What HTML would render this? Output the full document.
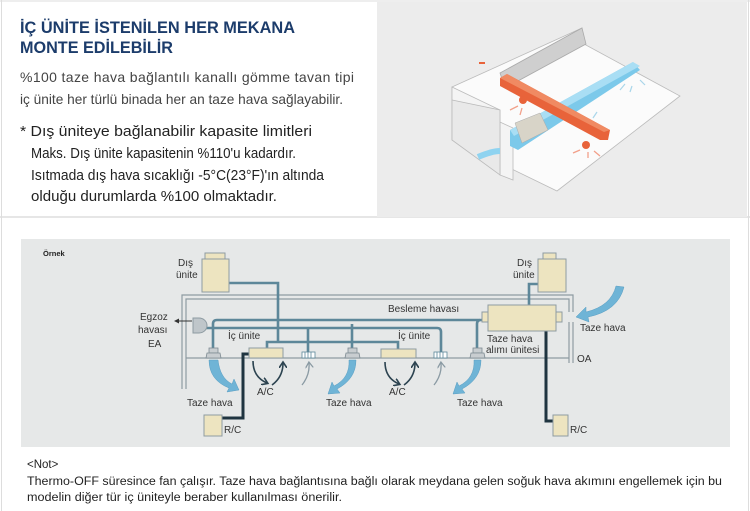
<!DOCTYPE html>
<html><head><meta charset="utf-8"><style>
html,body{margin:0;padding:0;background:#fff;}
svg{display:block;}
text{font-family:"Liberation Sans",sans-serif;}
</style></head><body>
<svg width="750" height="511" viewBox="0 0 750 511" xmlns="http://www.w3.org/2000/svg">
<defs>
<marker id="ad" markerWidth="8" markerHeight="8" refX="5" refY="4" orient="auto" markerUnits="userSpaceOnUse"><path d="M0,0 L6,4 L0,8" fill="none" stroke="#2c4350" stroke-width="1.6"/></marker>
<marker id="ag" markerWidth="8" markerHeight="8" refX="5" refY="4" orient="auto" markerUnits="userSpaceOnUse"><path d="M0,0 L6,4 L0,8" fill="none" stroke="#8a9aa3" stroke-width="1.3"/></marker>
</defs>
<rect x="0" y="0" width="750" height="511" fill="#fff"/>
<line x1="1.5" y1="0" x2="1.5" y2="511" stroke="#ddd" stroke-width="1"/>
<line x1="748.5" y1="0" x2="748.5" y2="511" stroke="#ddd" stroke-width="1"/>
<line x1="0" y1="1" x2="750" y2="1" stroke="#ddd"/>
<line x1="0" y1="217" x2="750" y2="217" stroke="#ddd" stroke-width="1.5"/>

<text x="20" y="33" font-size="17" font-weight="bold" fill="#1c3c6b" textLength="275" lengthAdjust="spacingAndGlyphs">İÇ ÜNİTE İSTENİLEN HER MEKANA</text>
<text x="20" y="53" font-size="17" font-weight="bold" fill="#1c3c6b" textLength="153" lengthAdjust="spacingAndGlyphs">MONTE EDİLEBİLİR</text>
<text x="20" y="82" font-size="14" fill="#444" textLength="334" lengthAdjust="spacing">%100 taze hava bağlantılı kanallı gömme tavan tipi</text>
<text x="20" y="104" font-size="14" fill="#444" textLength="323" lengthAdjust="spacingAndGlyphs">iç ünite her türlü binada her an taze hava sağlayabilir.</text>
<text x="20" y="136" font-size="14.5" fill="#222" textLength="292" lengthAdjust="spacingAndGlyphs">* Dış üniteye bağlanabilir kapasite limitleri</text>
<text x="31" y="158" font-size="14.5" fill="#222" textLength="265" lengthAdjust="spacingAndGlyphs">Maks. Dış ünite kapasitenin %110'u kadardır.</text>
<text x="31" y="180" font-size="14.5" fill="#222" textLength="293" lengthAdjust="spacingAndGlyphs">Isıtmada dış hava sıcaklığı -5°C(23°F)'ın altında</text>
<text x="31" y="201" font-size="14.5" fill="#222" textLength="246" lengthAdjust="spacingAndGlyphs">olduğu durumlarda %100 olmaktadır.</text>

<rect x="377" y="2" width="370" height="215" fill="#ececec"/>
<polygon points="452,87 582,28 584,44 680,96 557,191 452,140" fill="#fbfbfb" stroke="#bbb" stroke-width="0.8"/>
<polygon points="452,87 500,110 500,175 513,180 513,128 452,100" fill="#f4f4f4" stroke="#bbb" stroke-width="0.8"/>
<polygon points="452,100 452,140 500,175 500,110" fill="#e9e9e9" stroke="#bbb" stroke-width="0.8"/>
<polygon points="500,73 582,28 586,44 505,88" fill="#cfcfcf" stroke="#aaa" stroke-width="0.8"/>
<polygon points="510,130 633,62 640,70 518,150 510,146" fill="#7cc9ea"/>
<polygon points="510,130 633,62 640,66 514,136" fill="#a9def4"/>
<polygon points="515,123 540,113 548,130 522,143" fill="#d8d4c8" stroke="#aaa" stroke-width="0.5"/>
<polygon points="500,78 507,74 610,130 608,140 600,140 500,86" fill="#e8633a"/>
<polygon points="500,78 507,74 610,130 604,132" fill="#f08a62"/>
<circle cx="523" cy="100" r="4" fill="#e8633a"/><circle cx="586" cy="145" r="4" fill="#e8633a"/>
<path d="M478,157 q14,-6 22,-6" stroke="#8fd3f0" stroke-width="6" fill="none"/>
<path d="M485,63 l-6,0" stroke="#e8633a" stroke-width="2"/>
<g stroke="#f2a08a" stroke-width="1.3"><line x1="573" y1="153" x2="580" y2="150"/><line x1="588" y1="158" x2="588" y2="152"/><line x1="600" y1="156" x2="594" y2="151"/><line x1="510" y1="110" x2="518" y2="106"/><line x1="520" y1="115" x2="522" y2="108"/></g>
<g stroke="#a9d6ea" stroke-width="1.2"><line x1="620" y1="90" x2="625" y2="84"/><line x1="630" y1="92" x2="632" y2="86"/><line x1="645" y1="85" x2="640" y2="80"/><line x1="593" y1="118" x2="597" y2="112"/></g>

<rect x="21" y="239" width="709" height="208" fill="#e6e8e8"/>
<text x="43" y="256" font-size="7.5" font-weight="bold" fill="#222">Örnek</text>

<g stroke="#8e9ba2" stroke-width="1.2" fill="none">
<polyline points="182,389 182,295 573,295 573,312"/>
<polyline points="186,389 186,299 569,299 569,312"/>
<line x1="569" y1="322" x2="569" y2="363"/>
<line x1="573" y1="322" x2="573" y2="363"/>
<line x1="186" y1="358" x2="569" y2="358"/>
</g>

<g stroke="#5d8799" stroke-width="2.6" fill="none">
<path d="M213,349 V324 q0,-4 4,-4 H480"/>
<path d="M352,349 V324"/>
<path d="M477,349 V324 q0,-4 4,-4 H482"/>
<path d="M205,328 H437 q4,0 4,4 V352"/>
<path d="M308,328 V352"/>
<path d="M229,283 H278 V342"/>
<path d="M267,348 V342 H398 V349"/>
<path d="M538,284 H529 V305"/>
</g>
<g stroke="#1f3440" stroke-width="3" fill="none">
<polyline points="222,418 243,418 243,354 249,354"/>
<polyline points="546,331 546,421 553,421"/>
</g>

<g fill="#ede4c0" stroke="#8e9ba2" stroke-width="1">
<rect x="205" y="253" width="20" height="7"/>
<rect x="202" y="259" width="27" height="33"/>
<rect x="543" y="253" width="13" height="6"/>
<rect x="538" y="259" width="28" height="33"/>
<rect x="249" y="348" width="34" height="10"/>
<rect x="381" y="349" width="35" height="9"/>
<rect x="488" y="305" width="68" height="26"/>
<rect x="482" y="312" width="6" height="10"/>
<rect x="556" y="312" width="6" height="10"/>
<rect x="204" y="415" width="18" height="21"/>
<rect x="553" y="415" width="15" height="21"/>
</g>
<path d="M193,318 h6 a8,7.5 0 0 1 0,15 h-6 z" fill="#bfc6ca" stroke="#8e9ba2"/>
<line x1="192" y1="321" x2="178" y2="321" stroke="#333" stroke-width="1"/>
<path d="M174,321 l5,-2.5 v5 z" fill="#333"/>
<g fill="#c8cdd0" stroke="#7e8b92" stroke-width="0.8">
<rect x="209" y="348" width="9" height="5"/><path d="M207,353 h13 l1,5 h-15 z"/>
<rect x="348" y="348" width="9" height="5"/><path d="M346,353 h13 l1,5 h-15 z"/>
<rect x="473" y="348" width="9" height="5"/><path d="M471,353 h13 l1,5 h-15 z"/>
</g>
<g fill="#fff" stroke="#5d8799" stroke-width="0.8">
<rect x="302" y="352" width="13" height="6"/><rect x="434" y="352" width="13" height="6"/>
<path d="M305,352v6M308,352v6M311,352v6M437,352v6M440,352v6M443,352v6"/>
</g>
<g fill="#6fb4d6" stroke="#5a9ec2" stroke-width="0.5">
<path d="M209,360 q0,20 20,28 l-2,4 l12,-2 l-5,-11 l-2,5 q-12,-6 -14,-24 z"/>
<path d="M349,360 q1,18 -15,26 l-2,-4 l-4,12 l12,-1 l-3,-4 q19,-10 19,-29 z"/>
<path d="M474,360 q1,18 -15,26 l-2,-4 l-4,12 l12,-1 l-3,-4 q19,-10 19,-29 z"/>
<path d="M616,286 q-5,20 -30,26 l0,-5 l-10,10 l13,5 l-1,-5 q30,-6 36,-30 z"/>
</g>
<g stroke="#2c4350" stroke-width="1.6" fill="none">
<path d="M253,361 q0,16 14,22" marker-end="url(#ad)"/>
<path d="M272,385 q11,-8 11,-22" marker-end="url(#ad)"/>
<path d="M385,362 q0,16 14,22" marker-end="url(#ad)"/>
<path d="M404,385 q11,-8 11,-22" marker-end="url(#ad)"/>
</g>
<g stroke="#8a9aa3" stroke-width="1.3" fill="none">
<path d="M302,385 q8,-10 7,-22" marker-end="url(#ag)"/>
<path d="M434,385 q8,-10 7,-22" marker-end="url(#ag)"/>
</g>

<g font-size="10" fill="#333">
<text x="178" y="266">Dış</text><text x="176" y="278">ünite</text>
<text x="517" y="266">Dış</text><text x="513" y="278">ünite</text>
<text x="140" y="320">Egzoz</text><text x="138" y="333">havası</text><text x="148" y="347">EA</text>
<text x="228" y="339">İç ünite</text><text x="398" y="339">İç ünite</text>
<text x="388" y="312">Besleme havası</text>
<text x="487" y="342">Taze hava</text><text x="486" y="353">alımı ünitesi</text>
<text x="580" y="331">Taze hava</text>
<text x="577" y="362">OA</text>
<text x="257" y="395">A/C</text><text x="389" y="395">A/C</text>
<text x="187" y="406">Taze hava</text><text x="326" y="406">Taze hava</text><text x="457" y="406">Taze hava</text>
<text x="224" y="433">R/C</text><text x="570" y="433">R/C</text>
</g>

<text x="27" y="468" font-size="11.5" fill="#222">&lt;Not&gt;</text>
<text x="27" y="485" font-size="11.5" fill="#222" textLength="695" lengthAdjust="spacingAndGlyphs">Thermo-OFF süresince fan çalışır. Taze hava bağlantısına bağlı olarak meydana gelen soğuk hava akımını engellemek için bu</text>
<text x="27" y="501" font-size="11.5" fill="#222" textLength="315" lengthAdjust="spacingAndGlyphs">modelin diğer tür iç üniteyle beraber kullanılması önerilir.</text>
</svg>
</body></html>
